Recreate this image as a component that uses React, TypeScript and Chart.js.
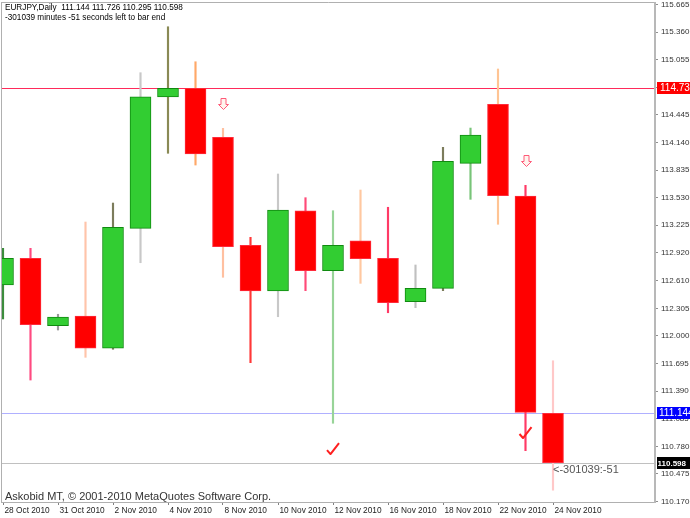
import React, { useEffect, useRef } from "react";
import { Chart, registerables } from "chart.js";

Chart.register(...registerables);

// ---- data ----
const dates = [
  "28 Oct 2010", "29 Oct 2010", "31 Oct 2010", "1 Nov 2010", "2 Nov 2010", "3 Nov 2010",
  "4 Nov 2010", "5 Nov 2010", "8 Nov 2010", "9 Nov 2010", "10 Nov 2010", "11 Nov 2010",
  "12 Nov 2010", "15 Nov 2010", "16 Nov 2010", "17 Nov 2010", "18 Nov 2010", "19 Nov 2010",
  "22 Nov 2010", "23 Nov 2010", "24 Nov 2010",
];
const opens = [112.564, 112.859, 112.114, 112.221, 111.864, 113.190, 114.642, 114.738, 114.197, 113.002, 112.497, 113.385, 112.722, 113.053, 112.859, 112.379, 112.527, 113.909, 114.561, 113.548, 111.144];
const highs = [112.969, 112.969, 112.240, 113.260, 113.470, 114.911, 115.419, 115.032, 114.296, 113.091, 113.791, 113.529, 113.385, 113.614, 113.423, 112.785, 114.086, 114.299, 114.952, 113.666, 111.726];
const lows = [112.188, 111.513, 112.066, 111.764, 111.853, 112.810, 114.020, 113.890, 112.649, 111.705, 112.213, 112.501, 111.035, 112.582, 112.257, 112.313, 112.501, 113.511, 113.235, 110.732, 110.295];
const closes = [112.859, 112.125, 112.210, 111.864, 113.202, 114.645, 114.738, 114.012, 112.987, 112.497, 113.393, 112.722, 113.002, 112.854, 112.368, 112.527, 113.931, 114.222, 113.551, 111.156, 110.598];

const xTickIdx = [0, 2, 4, 6, 8, 10, 12, 14, 16, 18, 20];
const priceTicks = [110.170, 110.475, 110.780, 111.085, 111.390, 111.695, 112.000, 112.305, 112.610, 112.920, 113.225, 113.530, 113.835, 114.140, 114.445, 114.750, 115.055, 115.360, 115.665];

const levelValues = [114.738, 111.144, 110.598];

const downArrowIdx = [8, 19];
const downArrowPrice = [114.565, 113.935];
const checkIdx = [12, 19];
const checkPrice = [110.750, 110.927];

const headerLine1 = "EURJPY,Daily  111.144 111.726 110.295 110.598";
const headerLine2 = "-301039 minutes -51 seconds left to bar end";
const copyright = "Askobid MT, \u00A9 2001-2010 MetaQuotes Software Corp.";
const timerText = "<-301039:-51";
const timerIdx = 20;

// ---- styles ----
const wickColors = [
  "#3c8c3c", "#ff4a80", "#9a9a9a", "#ffc4aa", "#7c7c5c", "#c8c8c8", "#8a8a55",
  "#ffa868", "#ffc0a0", "#ff3838", "#c8c8c8", "#ff4a78", "#98d498", "#ffc8a0",
  "#ff3a66", "#c0c0c0", "#7c7c5c", "#78c478", "#ffc494", "#ff3a66", "#ffc8c8",
];
const levelLineColors = ["#ff2a5a", "#b0b0ff", "#c0c0c0"];
const levelBoxColors = ["#ff0000", "#0000ff", "#000000"];
const levelFonts = ['10px "Liberation Sans"', '10px "Liberation Sans"', 'bold 8px "Liberation Sans"'];
const levelTextX = [660, 659, 657.5];

const overlay = {
  id: "overlay",
  beforeDatasetsDraw(chart: any) {
    const { ctx, chartArea: a, scales } = chart;
    const y = scales.y;
    ctx.save();
    levelValues.forEach((v, k) => {
      const py = Math.round(y.getPixelForValue(v)) + 0.5;
      ctx.strokeStyle = levelLineColors[k];
      ctx.lineWidth = 1;
      ctx.beginPath();
      ctx.moveTo(a.left, py);
      ctx.lineTo(a.right, py);
      ctx.stroke();
    });
    ctx.restore();
  },
  afterDraw(chart: any) {
    const { ctx, chartArea: a, scales } = chart;
    const x = scales.x;
    const y = scales.y;
    ctx.save();
    // frame
    ctx.strokeStyle = "#b0b0b0";
    ctx.lineWidth = 1;
    ctx.beginPath();
    ctx.moveTo(1.5, a.top + 0.5);
    ctx.lineTo(a.right, a.top + 0.5);
    ctx.moveTo(1.5, a.top);
    ctx.lineTo(1.5, a.bottom);
    ctx.moveTo(1, a.bottom + 0.5);
    ctx.lineTo(a.right, a.bottom + 0.5);
    ctx.stroke();
    ctx.strokeStyle = "#b8b8b8";
    ctx.lineWidth = 2;
    ctx.beginPath();
    ctx.moveTo(a.right, a.top);
    ctx.lineTo(a.right, a.bottom + 1);
    ctx.stroke();

    // level labels
    levelValues.forEach((v, k) => {
      const py = Math.round(y.getPixelForValue(v));
      ctx.fillStyle = levelBoxColors[k];
      ctx.fillRect(a.right + 2, py - 6, 40, 12);
      ctx.fillStyle = "#ffffff";
      ctx.font = levelFonts[k];
      ctx.textBaseline = "middle";
      ctx.textAlign = "left";
      ctx.fillText(v.toFixed(3), levelTextX[k], py + 0.5);
    });

    // header texts
    ctx.fillStyle = "#000000";
    ctx.font = '8.2px "Liberation Sans"';
    ctx.textBaseline = "alphabetic";
    ctx.fillText(headerLine1, 5, 10);
    ctx.fillText(headerLine2, 5, 19.5);

    ctx.fillStyle = "#333333";
    ctx.font = '11px "Liberation Sans"';
    ctx.fillText(copyright, 5, 500);

    ctx.fillStyle = "#555555";
    ctx.font = '11px "Liberation Sans"';
    ctx.fillText(timerText, x.getPixelForValue(timerIdx), 473);

    // down arrows
    downArrowIdx.forEach((idx, k) => {
      const cx = Math.round(x.getPixelForValue(idx)) + 0.5;
      const cy = Math.round(y.getPixelForValue(downArrowPrice[k])) + 0.5;
      const top = cy - 6;
      ctx.beginPath();
      ctx.moveTo(cx - 2.5, top);
      ctx.lineTo(cx + 2.5, top);
      ctx.lineTo(cx + 2.5, top + 6);
      ctx.lineTo(cx + 5, top + 6);
      ctx.lineTo(cx, top + 11);
      ctx.lineTo(cx - 5, top + 6);
      ctx.lineTo(cx - 2.5, top + 6);
      ctx.closePath();
      ctx.fillStyle = "#fff4ee";
      ctx.fill();
      ctx.strokeStyle = "#ff5a78";
      ctx.lineWidth = 1;
      ctx.stroke();
    });

    // check marks
    checkIdx.forEach((idx, k) => {
      const cx = x.getPixelForValue(idx);
      const cy = y.getPixelForValue(checkPrice[k]);
      ctx.strokeStyle = "#ff2020";
      ctx.lineWidth = 2;
      ctx.lineJoin = "round";
      ctx.beginPath();
      ctx.moveTo(cx - 6, cy + 1);
      ctx.lineTo(cx - 2.5, cy + 5);
      ctx.lineTo(cx + 6, cy - 6);
      ctx.stroke();
    });
    ctx.restore();
  },
};

export default function App() {
  const ref = useRef<HTMLCanvasElement>(null);
  useEffect(() => {
    document.body.style.margin = "0";
    const bodies = dates.map((_, i) => ({ x: i, y: [opens[i], closes[i]] }));
    const wicks = dates.map((_, i) => ({ x: i, y: [lows[i], highs[i]] }));
    const isUp = dates.map((_, i) => closes[i] > opens[i]);

    const chart = new Chart(ref.current as HTMLCanvasElement, {
      type: "bar",
      data: {
        datasets: [
          {
            label: "body",
            data: bodies as any,
            order: 1,
            grouped: false,
            barThickness: 21,
            backgroundColor: isUp.map((u) => (u ? "#32cd32" : "#ff0000")),
            borderColor: isUp.map((u) => (u ? "#108a10" : "#ff2a3a")),
            borderWidth: 1,
            borderSkipped: false,
          } as any,
          {
            label: "wick",
            data: wicks as any,
            order: 2,
            grouped: false,
            barThickness: 1.5,
            backgroundColor: wickColors,
            borderWidth: 0,
          } as any,
        ],
      },
      plugins: [overlay],
      options: {
        animation: false,
        responsive: false,
        maintainAspectRatio: false,
        indexAxis: "x",
        layout: { padding: { left: 1, top: 2, right: 0, bottom: 0 } },
        plugins: { legend: { display: false }, tooltip: { enabled: false } },
        scales: {
          x: {
            type: "linear",
            offset: false,
            min: -2 / 27.5,
            max: -2 / 27.5 + 654 / 27.5,
            afterBuildTicks: (s: any) => {
              s.ticks = xTickIdx.map((v) => ({ value: v }));
            },
            afterFit: (s: any) => {
              s.height = 16;
              s.paddingLeft = 0;
              s.paddingRight = 0;
            },
            border: { display: false },
            grid: { display: true, drawOnChartArea: false, drawTicks: true, tickLength: 3, color: "#808080", offset: false },
            ticks: {
              autoSkip: false,
              maxRotation: 0,
              align: "start",
              labelOffset: 1.5,
              padding: 1,
              color: "#222222",
              font: { family: "Liberation Sans", size: 8.3 },
              callback: (v: any) => dates[Math.round(Number(v))] ?? "",
            },
          },
          y: {
            type: "linear",
            position: "right",
            min: 110.170 - 0.5 / 90.45,
            max: 115.665 + 2.5 / 90.45,
            afterBuildTicks: (s: any) => {
              s.ticks = priceTicks.map((v) => ({ value: v }));
            },
            afterFit: (s: any) => {
              s.width = 35;
              s.paddingTop = 0;
              s.paddingBottom = 0;
            },
            border: { display: false },
            grid: { display: true, drawOnChartArea: false, drawTicks: true, tickLength: 3, color: "#909090" },
            ticks: {
              padding: 3,
              color: "#333333",
              font: { family: "Liberation Sans", size: 8 },
              callback: (v: any) => Number(v).toFixed(3),
            },
          },
        },
      } as any,
    });
    return () => chart.destroy();
  }, []);
  return (
    <div style={{ width: 690, height: 518 }}>
      <canvas ref={ref} width={690} height={518} style={{ display: "block", width: 690, height: 518 }} />
    </div>
  );
}
